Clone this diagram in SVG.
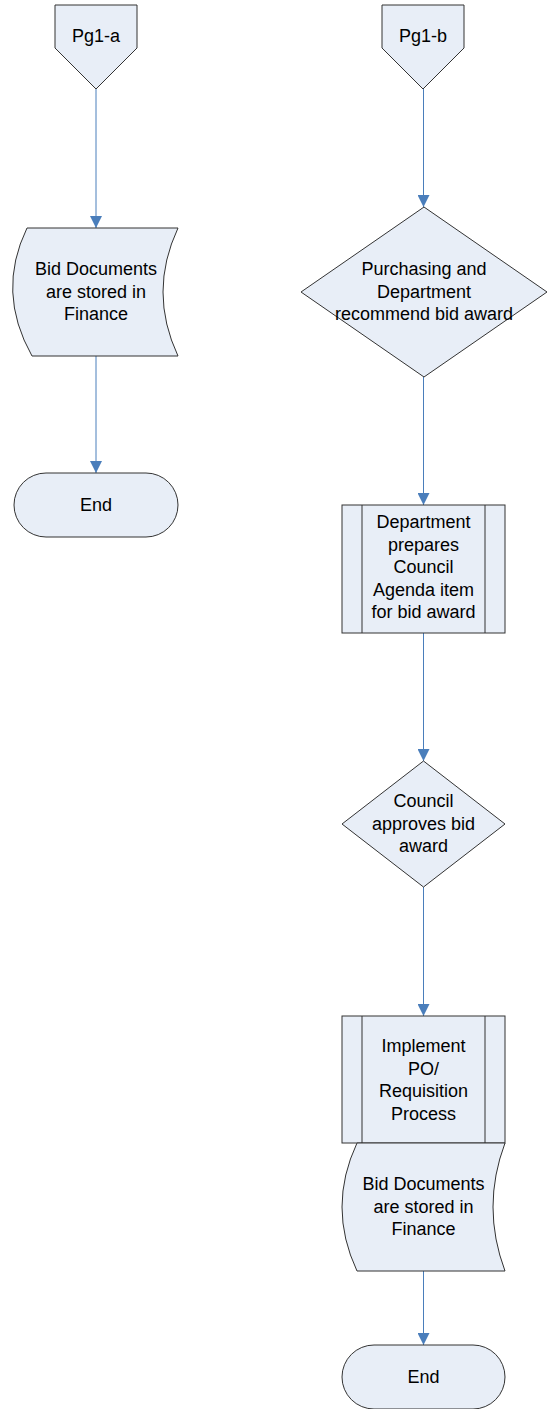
<svg xmlns="http://www.w3.org/2000/svg" width="548" height="1409" viewBox="0 0 548 1409">
<style>
.s{fill:#e8eef7;stroke:#333;stroke-width:1}
.t{font-family:"Liberation Sans",Arial,sans-serif;font-size:18px;fill:#000;text-anchor:middle}
.c{stroke:#4a7ebb;stroke-width:1;fill:none;marker-end:url(#a)}
</style>
<defs>
<marker id="a" markerWidth="12" markerHeight="12" refX="12" refY="6" orient="auto" markerUnits="userSpaceOnUse">
<path d="M0,0 L12,6 L0,12 Z" fill="#4a7ebb"/>
</marker>
</defs>
<rect width="548" height="1409" fill="#fff"/>
<g id="connectors">
<line class="c" x1="96" y1="89" x2="96" y2="228"/>
<line class="c" x1="96" y1="356" x2="96" y2="473"/>
<line class="c" x1="423.5" y1="89" x2="423.5" y2="207"/>
<line class="c" x1="423.5" y1="377" x2="423.5" y2="505"/>
<line class="c" x1="423.5" y1="633" x2="423.5" y2="761"/>
<line class="c" x1="423.5" y1="887" x2="423.5" y2="1016"/>
<line class="c" x1="423.5" y1="1271" x2="423.5" y2="1345"/>
</g>
<g id="pg1a">
<path class="s" d="M55,5 H137 V48 L96,89 L55,48 Z"/>
<text class="t" x="96" y="42">Pg1-a</text>
</g>
<g id="doc1">
<path class="s" d="M27,228 H178 Q148,292 178,356 H32 Q-4,292 27,228 Z"/>
<text class="t" x="96" y="275">Bid Documents</text>
<text class="t" x="96" y="297.5">are stored in</text>
<text class="t" x="96" y="320">Finance</text>
</g>
<g id="end1">
<rect class="s" x="14" y="473" width="164" height="64" rx="32" ry="32"/>
<text class="t" x="96" y="511">End</text>
</g>
<g id="pg1b">
<path class="s" d="M382,5 H464 V48 L423,89 L382,48 Z"/>
<text class="t" x="423" y="42">Pg1-b</text>
</g>
<g id="decision1">
<path class="s" d="M424,207 L547,292 L424,377 L301,292 Z"/>
<text class="t" x="424" y="275">Purchasing and</text>
<text class="t" x="424" y="297.5">Department</text>
<text class="t" x="424" y="320">recommend bid award</text>
</g>
<g id="process1">
<rect class="s" x="342" y="505" width="163" height="128"/>
<line x1="362" y1="505" x2="362" y2="633" stroke="#333"/>
<line x1="485" y1="505" x2="485" y2="633" stroke="#333"/>
<text class="t" x="423.5" y="528">Department</text>
<text class="t" x="423.5" y="550.5">prepares</text>
<text class="t" x="423.5" y="573">Council</text>
<text class="t" x="423.5" y="595.5">Agenda item</text>
<text class="t" x="423.5" y="618">for bid award</text>
</g>
<g id="decision2">
<path class="s" d="M423.5,761 L505,824 L423.5,887 L342,824 Z"/>
<text class="t" x="423.5" y="807">Council</text>
<text class="t" x="423.5" y="830">approves bid</text>
<text class="t" x="423.5" y="852">award</text>
</g>
<g id="process2">
<rect class="s" x="342" y="1016" width="163" height="127"/>
<line x1="362" y1="1016" x2="362" y2="1143" stroke="#333"/>
<line x1="485" y1="1016" x2="485" y2="1143" stroke="#333"/>
<text class="t" x="423.5" y="1052">Implement</text>
<text class="t" x="423.5" y="1074.5">PO/</text>
<text class="t" x="423.5" y="1097">Requisition</text>
<text class="t" x="423.5" y="1119.5">Process</text>
</g>
<g id="doc2">
<path class="s" d="M357,1143 H505 Q481,1207 505,1271 H357 Q327,1207 357,1143 Z"/>
<text class="t" x="423.5" y="1190">Bid Documents</text>
<text class="t" x="423.5" y="1212.5">are stored in</text>
<text class="t" x="423.5" y="1235">Finance</text>
</g>
<g id="end2">
<rect class="s" x="342" y="1345" width="163" height="64" rx="32" ry="32"/>
<text class="t" x="423.5" y="1383">End</text>
</g>
</svg>
